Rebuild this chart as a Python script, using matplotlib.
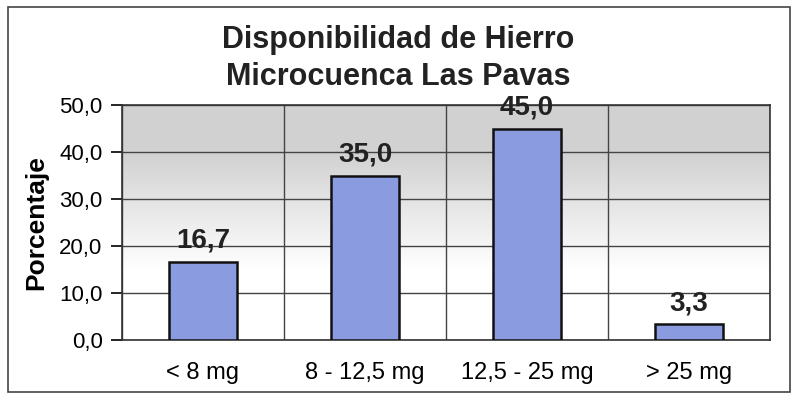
import matplotlib.pyplot as plt
import numpy as np

categorias = ['< 8 mg', '8 - 12,5 mg', '12,5 - 25 mg', '> 25 mg']
porcentajes = [16.7, 35.0, 45.0, 3.3]
yticks = [0, 10, 20, 30, 40, 50]

plt.rcParams['font.family'] = ['Liberation Sans', 'DejaVu Sans']

fig = plt.figure(figsize=(7.96, 4.0), dpi=100)
ax = fig.add_axes([122 / 796, 1 - 340 / 400, 648 / 796, 235 / 400])

x = np.arange(len(categorias))
ax.set_xlim(-0.5, len(categorias) - 0.5)
ax.set_ylim(0, 50)

# fondo degradado: gris arriba, blanco abajo
t = np.linspace(0, 1, 256)
f = np.clip((t - 0.3) / 0.5, 0, 1)
nivel = 1.0 - 0.18 * f
grad = np.dstack([nivel, nivel, nivel]).reshape(256, 1, 3)
ax.imshow(grad, extent=(-0.5, len(categorias) - 0.5, 0, 50), origin='lower',
          aspect='auto', zorder=0)

ax.bar(x, porcentajes, width=0.42, color='#8a9be0', edgecolor='#111111',
       linewidth=1.8, zorder=3)

for xi, v in zip(x, porcentajes):
    ax.text(xi, v + 1.8, f'{v:.1f}'.replace('.', ','), ha='center', va='bottom',
            fontsize=20, fontweight='bold', color='#222222', zorder=4)

ax.set_yticks(yticks)
ax.set_yticklabels([f'{t:.1f}'.replace('.', ',') for t in yticks], fontsize=16)
ax.set_xticks(x)
ax.set_xticklabels(categorias, fontsize=17)
ax.tick_params(axis='x', length=0, pad=16)
ax.tick_params(axis='y', length=8, width=1.2, pad=6)

for b in np.arange(-0.5, len(categorias), 1.0):
    ax.axvline(b, color='#444444', linewidth=1.0, zorder=1)
for tk in yticks:
    ax.axhline(tk, color='#444444', linewidth=1.0, zorder=1)

for s in ax.spines.values():
    s.set_color('#333333')
    s.set_linewidth(1.2)

ax.set_ylabel('Porcentaje', fontsize=19, fontweight='bold', labelpad=8)

fig.text(0.5, 1 - 40 / 400, 'Disponibilidad de Hierro', ha='center', va='center',
         fontsize=22, fontweight='bold', color='#222222')
fig.text(0.5, 1 - 77 / 400, 'Microcuenca Las Pavas', ha='center', va='center',
         fontsize=22, fontweight='bold', color='#222222')

# marco exterior
fig.patches.append(plt.Rectangle((8 / 796, 8 / 400), 782 / 796, 385 / 400,
                                 transform=fig.transFigure, fill=False,
                                 edgecolor='#444444', linewidth=1.2))

fig.savefig('out.png', dpi=100)
